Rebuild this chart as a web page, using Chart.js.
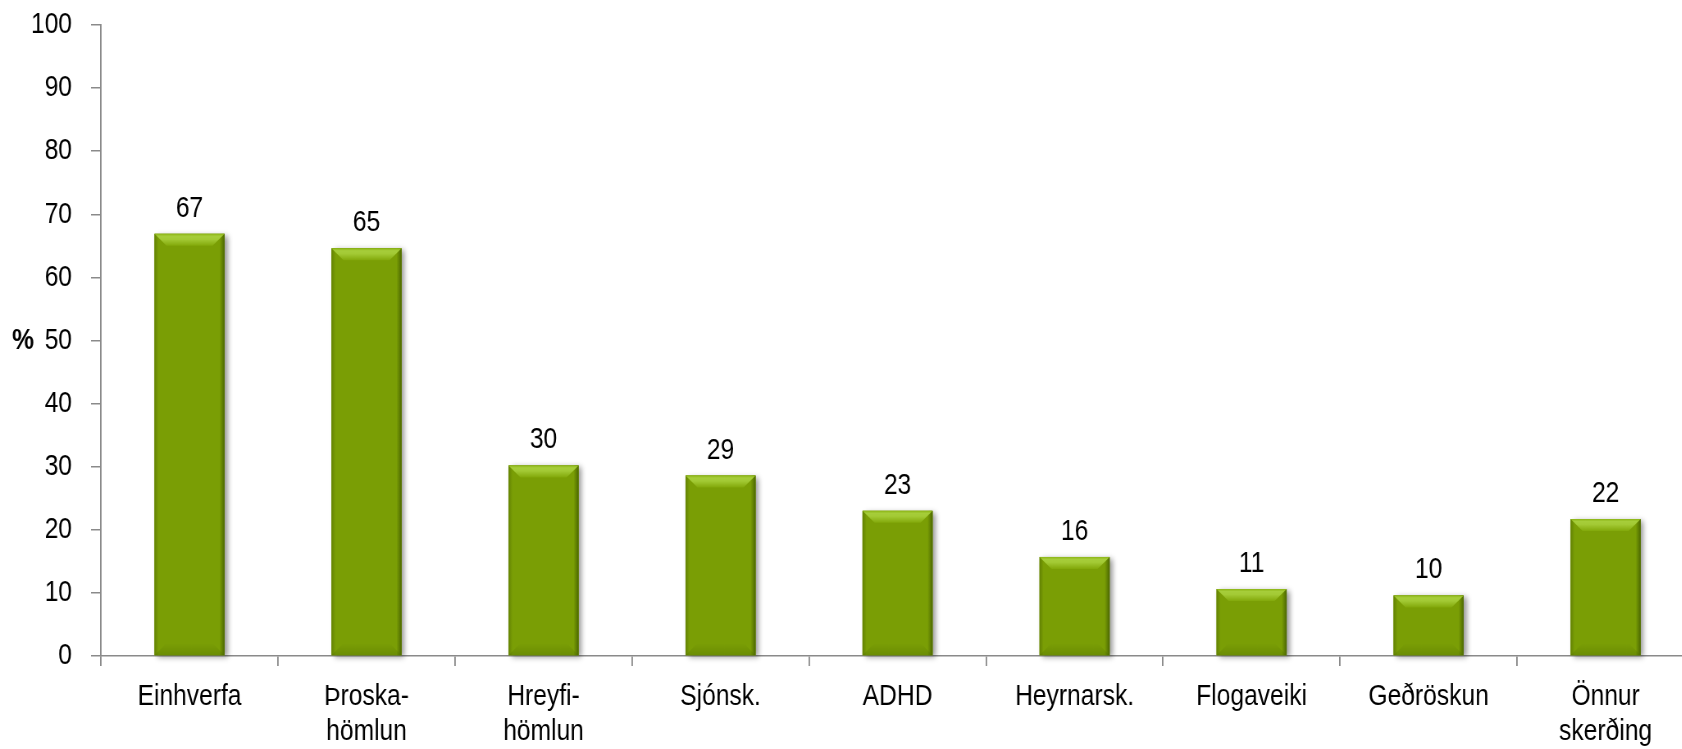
<!DOCTYPE html>
<html>
<head>
<meta charset="utf-8">
<script src="https://cdn.jsdelivr.net/npm/chart.js@4/dist/chart.umd.min.js"></script>
<style>
  html, body { margin: 0; padding: 0; background: #fff; overflow: hidden; }
  /* the original uses a narrow typeface; squeeze the whole drawing horizontally to imitate it */
  #wrap { width: 2066px; height: 749px; position: relative; transform: scaleX(0.82); transform-origin: 0 0; }
</style>
</head>
<body>
<div id="wrap"><canvas id="chart"></canvas></div>
<script>
// chart data
const categories = [
    'Einhverfa', ['Þroska-', 'hömlun'], ['Hreyfi-', 'hömlun'], 'Sjónsk.', 'ADHD',
    'Heyrnarsk.', 'Flogaveiki', 'Geðröskun', ['Önnur', 'skerðing']
];
const percentValues = [66.9, 64.6, 30.2, 28.6, 23.0, 15.7, 10.6, 9.6, 21.7];
const yTickMin = 0;
const yTickMax = 100;
const yTickStep = 10;
const yAxisTitle = '%';

const S = 0.82; // horizontal squeeze, must match the css above
const FONT = "'Liberation Sans', Arial, sans-serif";
const AXIS_GREY = '#8a8a8a';
const BAR_FACE = '#7a9e05';

// soft shadow behind each bar
const barShadow = {
    id: 'barShadow',
    beforeDatasetsDraw(chart) {
        const ctx = chart.ctx;
        chart.getDatasetMeta(0).data.forEach(bar => {
            const x0 = bar.x - bar.width / 2;
            ctx.save();
            ctx.shadowColor = 'rgba(0,0,0,0.4)';
            ctx.shadowBlur = 6;
            ctx.shadowOffsetX = 3 / S;
            ctx.shadowOffsetY = 2;
            ctx.fillStyle = BAR_FACE;
            ctx.fillRect(x0, bar.y, bar.width, bar.base - bar.y);
            ctx.restore();
        });
    }
};

// bevel look + value labels
const barBevel = {
    id: 'barBevel',
    afterDatasetsDraw(chart) {
        const ctx = chart.ctx;
        const meta = chart.getDatasetMeta(0);
        meta.data.forEach((bar, i) => {
            const x0 = bar.x - bar.width / 2, x1 = bar.x + bar.width / 2;
            const y0 = bar.y, y1 = bar.base;
            const b = Math.min(12, (y1 - y0) / 2);
            const bx = b / S;
            const poly = (pts, fill) => {
                ctx.beginPath();
                ctx.moveTo(pts[0][0], pts[0][1]);
                for (let k = 1; k < pts.length; k++) ctx.lineTo(pts[k][0], pts[k][1]);
                ctx.closePath();
                ctx.fillStyle = fill;
                ctx.fill();
            };
            ctx.save();
            // sides: thin soft edges
            let g = ctx.createLinearGradient(x1 - 5 / S, 0, x1, 0);
            g.addColorStop(0, 'rgba(60,85,0,0)');
            g.addColorStop(1, 'rgba(60,85,0,0.75)');
            ctx.fillStyle = g;
            ctx.fillRect(x1 - 5 / S, y0, 5 / S, y1 - y0);
            g = ctx.createLinearGradient(x0, 0, x0 + 4 / S, 0);
            g.addColorStop(0, 'rgba(70,95,0,0.45)');
            g.addColorStop(1, 'rgba(70,95,0,0)');
            ctx.fillStyle = g;
            ctx.fillRect(x0, y0, 4 / S, y1 - y0);
            // bottom
            g = ctx.createLinearGradient(0, y1 - b, 0, y1);
            g.addColorStop(0, 'rgba(80,110,0,0)');
            g.addColorStop(1, 'rgba(80,110,0,0.35)');
            poly([[x0, y1], [x0 + bx, y1 - b], [x1 - bx, y1 - b], [x1, y1]], g);
            // top bevel
            g = ctx.createLinearGradient(0, y0, 0, y0 + b);
            g.addColorStop(0, '#8cb516');
            g.addColorStop(0.2, '#a6cd3a');
            g.addColorStop(0.45, '#a3ca35');
            g.addColorStop(1, '#82a80a');
            poly([[x0, y0], [x1, y0], [x1 - bx, y0 + b], [x0 + bx, y0 + b]], g);

            // value label
            ctx.fillStyle = '#000';
            ctx.font = '30px ' + FONT;
            ctx.textAlign = 'center';
            ctx.textBaseline = 'alphabetic';
            ctx.fillText(String(Math.round(percentValues[i])), bar.x, y0 - 17);
            ctx.restore();
        });
    }
};

// horizontal "%" title next to the middle tick
const yTitle = {
    id: 'yTitle',
    afterDraw(chart) {
        const ctx = chart.ctx;
        const y = chart.scales.y.getPixelForValue((yTickMin + yTickMax) / 2);
        ctx.save();
        ctx.font = 'bold 30px ' + FONT;
        ctx.fillStyle = '#000';
        ctx.textAlign = 'right';
        ctx.textBaseline = 'middle';
        ctx.fillText(yAxisTitle, 34 / S, y);
        ctx.restore();
    }
};

new Chart(document.getElementById('chart'), {
    type: 'bar',
    data: {
        labels: categories,
        datasets: [{
            data: percentValues,
            backgroundColor: BAR_FACE,
            borderWidth: 0,
            barPercentage: 0.396,
            categoryPercentage: 1
        }]
    },
    options: {
        responsive: true,
        maintainAspectRatio: false,
        animation: false,
        layout: { padding: { top: 25, left: 0, right: 0, bottom: 0 } },
        plugins: { legend: { display: false }, tooltip: { enabled: false } },
        scales: {
            x: {
                grid: { display: true, drawOnChartArea: false, offset: true, tickLength: 10, color: AXIS_GREY, lineWidth: 1.5 / S },
                border: { color: AXIS_GREY, width: 1.5 },
                ticks: { color: '#000', font: { family: FONT, size: 30, lineHeight: 1.17 }, padding: 13, maxRotation: 0, autoSkip: false },
                afterFit(scale) { scale.height = 93; }
            },
            y: {
                min: yTickMin,
                max: yTickMax,
                grid: { drawOnChartArea: false, tickLength: 10 / S, color: AXIS_GREY, lineWidth: 1.5 },
                border: { color: AXIS_GREY, width: 1.5 / S },
                ticks: { stepSize: yTickStep, color: '#000', font: { family: FONT, size: 30 }, padding: 19 / S },
                afterFit(scale) {
                    scale.width = 101 / S;
                    scale.paddingTop = 0;
                    scale.paddingBottom = 0;
                }
            }
        }
    },
    plugins: [barShadow, barBevel, yTitle]
});
</script>
</body>
</html>
